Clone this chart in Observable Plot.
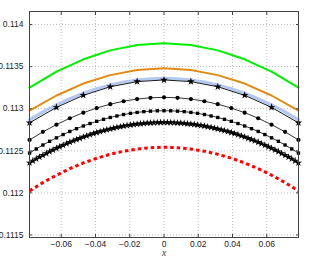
<!DOCTYPE html>
<html>
<head>
<meta charset="utf-8">
<script src="https://cdn.jsdelivr.net/npm/d3@7"></script>
<script src="https://cdn.jsdelivr.net/npm/@observablehq/plot@0.6"></script>
<style>
  html, body { margin: 0; padding: 0; background: #fff; }
</style>
</head>
<body>
<div id="chart"></div>
<script>
const xTicks = [-0.06, -0.04, -0.02, 0, 0.02, 0.04, 0.06];
const yTicks = [0.1115, 0.112, 0.1125, 0.113, 0.1135, 0.114];

const x11 = [-0.0785,-0.0628,-0.0471,-0.0314,-0.0157,0,0.0157,0.0314,0.0471,0.0628,0.0785];
const x21 = [-0.0785,-0.0707,-0.0628,-0.055,-0.0471,-0.0393,-0.0314,-0.0236,-0.0157,-0.0079,0,
             0.0079,0.0157,0.0236,0.0314,0.0393,0.0471,0.055,0.0628,0.0707,0.0785];
const x41 = [-0.0785,-0.0746,-0.0707,-0.0668,-0.0628,-0.0589,-0.055,-0.0511,-0.0471,-0.0432,-0.0393,
             -0.0353,-0.0314,-0.0275,-0.0236,-0.0196,-0.0157,-0.0118,-0.0079,-0.0039,0,
             0.0039,0.0079,0.0118,0.0157,0.0196,0.0236,0.0275,0.0314,0.0353,0.0393,
             0.0432,0.0471,0.0511,0.055,0.0589,0.0628,0.0668,0.0707,0.0746,0.0785];
const x81 = [-0.0785,-0.0766,-0.0746,-0.0727,-0.0707,-0.0687,-0.0668,-0.0648,-0.0628,-0.0609,
             -0.0589,-0.0569,-0.055,-0.053,-0.0511,-0.0491,-0.0471,-0.0452,-0.0432,-0.0412,
             -0.0393,-0.0373,-0.0353,-0.0334,-0.0314,-0.0295,-0.0275,-0.0255,-0.0236,-0.0216,
             -0.0196,-0.0177,-0.0157,-0.0137,-0.0118,-0.0098,-0.0079,-0.0059,-0.0039,-0.002,0,
             0.002,0.0039,0.0059,0.0079,0.0098,0.0118,0.0137,0.0157,0.0177,0.0196,
             0.0216,0.0236,0.0255,0.0275,0.0295,0.0314,0.0334,0.0353,0.0373,0.0393,
             0.0412,0.0432,0.0452,0.0471,0.0491,0.0511,0.053,0.055,0.0569,0.0589,
             0.0609,0.0628,0.0648,0.0668,0.0687,0.0707,0.0727,0.0746,0.0766,0.0785];

const greenY = [0.11325,0.11344,0.113587,0.113693,0.113756,0.113777,0.113756,0.113693,0.113587,0.11344,0.11325];
const orangeY = [0.112976,0.113157,0.113299,0.113399,0.11346,0.11348,0.11346,0.113399,0.113299,0.113157,0.112976];
const blueY = [0.112867,0.112961,0.113045,0.113119,0.113183,0.113237,0.113282,0.113317,0.113341,0.113356,0.113361,
               0.113356,0.113341,0.113317,0.113282,0.113237,0.113183,0.113119,0.113045,0.112961,0.112867];
const star11Y = [0.112833,0.113016,0.113159,0.113261,0.113322,0.113342,0.113322,0.113261,0.113159,0.113016,0.112833];
const circle21Y = [0.112629,0.112725,0.112811,0.112887,0.112953,0.113008,0.113054,0.113089,0.113115,0.11313,0.113135,
                   0.11313,0.113115,0.113089,0.113054,0.113008,0.112953,0.112887,0.112811,0.112725,0.112629];
const square41Y = [0.112473,0.112522,0.112569,0.112613,0.112654,0.112693,0.11273,0.112763,0.112795,0.112824,0.11285,
                   0.112874,0.112896,0.112914,0.112931,0.112945,0.112956,0.112965,0.112971,0.112975,0.112976,
                   0.112975,0.112971,0.112965,0.112956,0.112945,0.112931,0.112914,0.112896,0.112874,0.11285,
                   0.112824,0.112795,0.112763,0.11273,0.112693,0.112654,0.112613,0.112569,0.112522,0.112473];
const star81Y = [0.112357,0.112381,0.112404,0.112426,0.112448,0.112469,0.11249,0.11251,0.11253,0.112549,
                 0.112567,0.112585,0.112602,0.112618,0.112634,0.112649,0.112664,0.112678,0.112692,0.112705,
                 0.112717,0.112729,0.11274,0.11275,0.11276,0.112769,0.112778,0.112786,0.112794,0.112801,
                 0.112807,0.112813,0.112818,0.112822,0.112826,0.11283,0.112832,0.112834,0.112836,0.112837,0.112837,
                 0.112837,0.112836,0.112834,0.112832,0.11283,0.112826,0.112822,0.112818,0.112813,0.112807,
                 0.112801,0.112794,0.112786,0.112778,0.112769,0.11276,0.11275,0.11274,0.112729,0.112717,
                 0.112705,0.112692,0.112678,0.112664,0.112649,0.112634,0.112618,0.112602,0.112585,0.112567,
                 0.112549,0.11253,0.11251,0.11249,0.112469,0.112448,0.112426,0.112404,0.112381,0.112357];
const redY = [0.112024,0.112122,0.11221,0.112288,0.112356,0.112412,0.112459,0.112495,0.112521,0.112537,0.112542,
              0.112537,0.112521,0.112495,0.112459,0.112412,0.112356,0.112288,0.11221,0.112122,0.112024];

const tbl = (xs, ys) => xs.map((x, i) => ({x, y: ys[i]}));
const green = tbl(x11, greenY), orange = tbl(x11, orangeY), blue = tbl(x21, blueY);
const star11 = tbl(x11, star11Y), circle21 = tbl(x21, circle21Y);
const square41 = tbl(x41, square41Y), star81 = tbl(x81, star81Y), red = tbl(x21, redY);

const fmtY = d => String(+d.toFixed(4));
const fmtX = d => d === 0 ? "0" : (d < 0 ? "\u2212" : "") + Math.abs(d).toFixed(2);

const chart = Plot.plot({
  width: 310, height: 267,
  marginLeft: 29, marginRight: 12, marginTop: 11, marginBottom: 30,
  x: {domain: [-0.0785398, 0.0785398]},
  y: {domain: [0.11147, 0.114155]},
  style: {fontFamily: "'Liberation Sans', Arial, sans-serif", fontSize: "8.5px", background: "#fff", color: "#222"},
  marks: [
    Plot.gridX(xTicks, {stroke: "#bdbdbd", strokeOpacity: 1, strokeDasharray: "1,2"}),
    Plot.gridY(yTicks, {stroke: "#bdbdbd", strokeOpacity: 1, strokeDasharray: "1,2"}),
    Plot.line(green, {x: "x", y: "y", stroke: "#00ee00", strokeWidth: 2}),
    Plot.line(orange, {x: "x", y: "y", stroke: "#e08a14", strokeWidth: 2}),
    Plot.line(blue, {x: "x", y: "y", stroke: "#b6c8f2", strokeWidth: 3.2}),
    Plot.line(star11, {x: "x", y: "y", stroke: "#000", strokeWidth: 0.9}),
    Plot.dot(star11, {x: "x", y: "y", symbol: "star", r: 2.4, fill: "#000"}),
    Plot.line(circle21, {x: "x", y: "y", stroke: "#000", strokeWidth: 0.8}),
    Plot.dot(circle21, {x: "x", y: "y", symbol: "circle", r: 2.1, fill: "#000"}),
    Plot.line(square41, {x: "x", y: "y", stroke: "#000", strokeWidth: 0.8}),
    Plot.dot(square41, {x: "x", y: "y", symbol: "square", r: 1.9, fill: "#000"}),
    Plot.line(star81, {x: "x", y: "y", stroke: "#000", strokeWidth: 1}),
    Plot.dot(star81, {x: "x", y: "y", symbol: "star", r: 2.3, fill: "#000"}),
    Plot.line(red, {x: "x", y: "y", stroke: "#ff0000", strokeWidth: 3, strokeDasharray: "3.5,3", strokeLinecap: "butt"}),
    Plot.frame({stroke: "#444", strokeWidth: 1}),
    Plot.axisX(xTicks, {anchor: "bottom", tickSize: 0, tickPadding: 3, tickFormat: fmtX, label: null}),
    Plot.axisY(yTicks, {anchor: "left", tickSize: 0, tickPadding: 6, tickFormat: fmtY, label: null}),
    Plot.axisX(xTicks, {anchor: "bottom", tickSize: -3, text: null, label: null, stroke: "#444"}),
    Plot.axisX(xTicks, {anchor: "top", tickSize: -3, text: null, label: null, stroke: "#444"}),
    Plot.axisY(yTicks, {anchor: "left", tickSize: -3, text: null, label: null, stroke: "#444"}),
    Plot.axisY(yTicks, {anchor: "right", tickSize: -3, text: null, label: null, stroke: "#444"}),
    Plot.text(["x"], {frameAnchor: "bottom", dy: 18.5, text: d => d, fontStyle: "italic",
      fontFamily: "'Liberation Serif', 'Times New Roman', serif", fontSize: 9.5, fill: "#333"})
  ]
});
document.getElementById("chart").appendChild(chart);
</script>
</body>
</html>
